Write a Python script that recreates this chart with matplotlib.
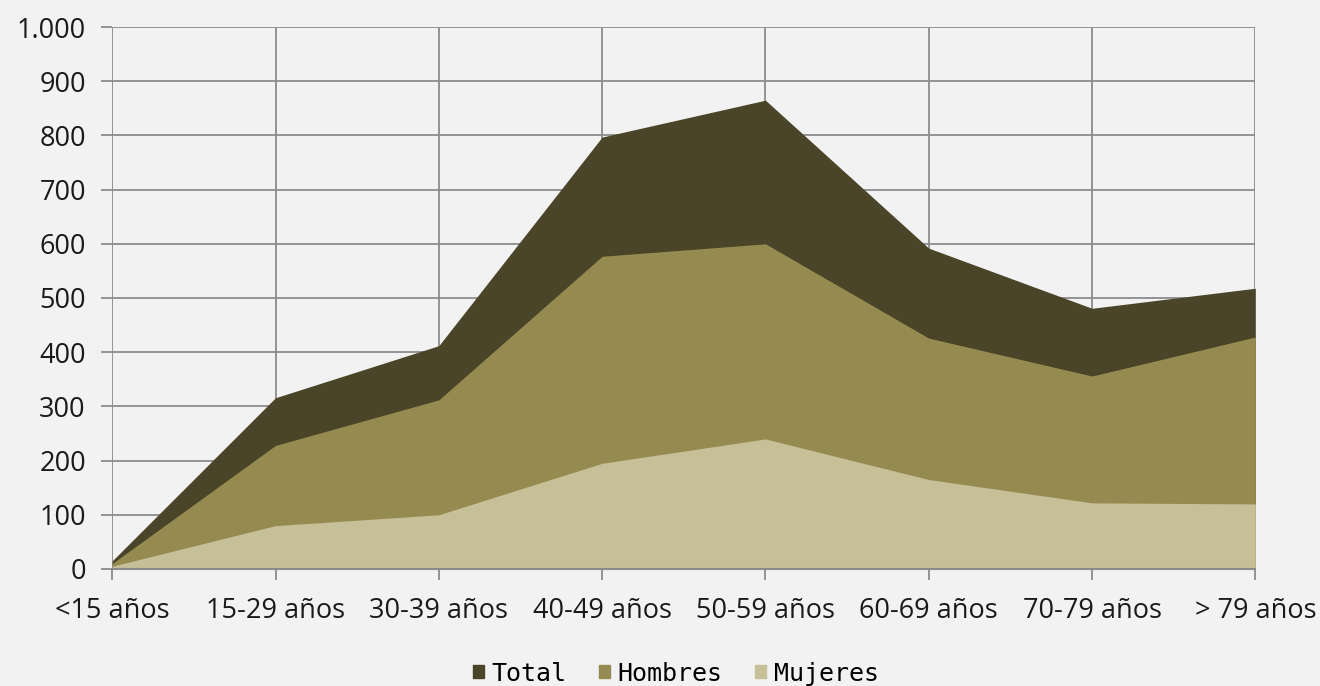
import matplotlib.pyplot as plt
from matplotlib.patches import Patch

categorias = ['<15 años', '15-29 años', '30-39 años', '40-49 años',
              '50-59 años', '60-69 años', '70-79 años', '> 79 años']
total = [15, 316, 412, 797, 865, 592, 481, 518]
hombres = [10, 228, 312, 577, 600, 426, 356, 428]
mujeres = [5, 80, 100, 195, 240, 165, 122, 120]

colores = {'Total': '#4a4528', 'Hombres': '#958b50', 'Mujeres': '#c6bf97'}
grid_col = '#8c8c8c'
bg = '#f2f2f2'

fig = plt.figure(figsize=(13.2, 6.86), dpi=100, facecolor=bg)
ax = fig.add_axes([0.085, 0.1706, 0.866, 0.79])
ax.set_facecolor(bg)

x = list(range(len(categorias)))
ax.fill_between(x, total, 0, color=colores['Total'], linewidth=0, zorder=2)
ax.fill_between(x, hombres, 0, color=colores['Hombres'], linewidth=0, zorder=3)
ax.fill_between(x, mujeres, 0, color=colores['Mujeres'], linewidth=0, zorder=4)

ax.set_xlim(0, len(categorias) - 1)
ax.set_ylim(0, 1000)
ax.set_xticks(x)
ax.set_xticklabels(categorias)
ax.set_yticks(range(0, 1001, 100))
ax.set_yticklabels([f'{v:,}'.replace(',', '.') for v in range(0, 1001, 100)])

ax.grid(True, color=grid_col, linewidth=1.3, zorder=1)
ax.set_axisbelow(True)
for s in ax.spines.values():
    s.set_visible(False)
ax.spines['bottom'].set_visible(True)
ax.spines['bottom'].set_color(grid_col)
ax.spines['bottom'].set_linewidth(1.5)
ax.spines['bottom'].set_zorder(5)

ax.tick_params(axis='both', colors=grid_col, length=8, width=1.3,
               labelcolor='#1a1a1a', labelsize=19.5)
ax.tick_params(axis='x', pad=12)
ax.tick_params(axis='y', pad=11)
for lab in ax.get_xticklabels() + ax.get_yticklabels():
    lab.set_fontfamily(['Open Sans', 'DejaVu Sans'])

handles = [Patch(color=colores[k], label=k) for k in ['Total', 'Hombres', 'Mujeres']]
fig.legend(handles=handles, loc='center', bbox_to_anchor=(0.512, 0.018),
           ncol=3, frameon=False, handlelength=0.45, handleheight=0.45,
           handletextpad=0.3, columnspacing=1.3,
           prop={'family': 'DejaVu Sans Mono', 'size': 18})

plt.savefig('out.png', dpi=100, facecolor=bg)
